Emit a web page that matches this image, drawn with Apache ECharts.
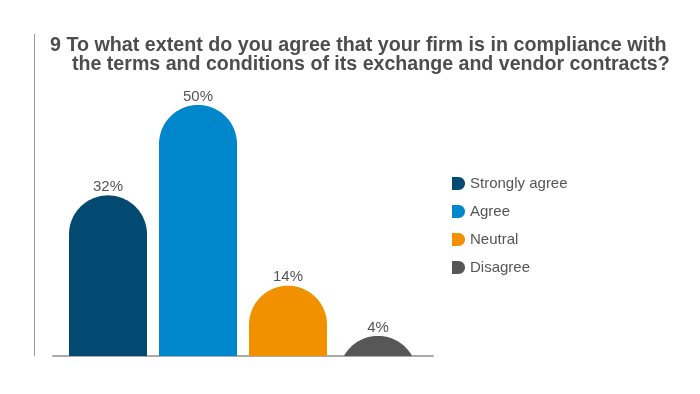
<!DOCTYPE html>
<html>
<head>
<meta charset="utf-8">
<script src="https://cdn.jsdelivr.net/npm/echarts@6/dist/echarts.min.js"></script>
<style>html,body{margin:0;padding:0;background:#fff}#c{width:700px;height:394px}</style>
</head>
<body>
<div id="c"></div>
<script>
const categories = ['Strongly agree', 'Agree', 'Neutral', 'Disagree'];
const values = [32, 50, 14, 4];
const colors = ['#034a73', '#0087cb', '#f29100', '#575757'];
const titleLine1 = '9 To what extent do you agree that your firm is in compliance with';
const titleLine2 = 'the terms and conditions of its exchange and vendor contracts?';

const FONT = '"Liberation Sans", Arial, Helvetica, sans-serif';
const BAR_FRAC = 78 / 90;
const DICON = 'path://M0,0 L6,0 C9.3,0 12,2.7 12,6 C12,9.3 9.3,12 6,12 L0,12 Z';

function renderItem(params, api) {
  const xi = api.value(0), v = api.value(1);
  const top = api.coord([xi, v]);
  const base = api.coord([xi, 0]);
  const bw = api.size([1, 0])[0] * BAR_FRAC;
  const r = bw / 2;
  const cx = top[0];
  const h = base[1] - top[1];
  const cy = top[1] + r;
  const pts = [];
  const N = 48;
  if (h >= r) {
    pts.push([cx - r, base[1]]);
    for (let i = 0; i <= N; i++) {
      const a = Math.PI + Math.PI * i / N;
      pts.push([cx + r * Math.cos(a), cy + r * Math.sin(a)]);
    }
    pts.push([cx + r, base[1]]);
  } else {
    const w = Math.sqrt(r * r - (r - h) * (r - h));
    let sA = Math.atan2(base[1] - cy, -w);
    let eA = Math.atan2(base[1] - cy, w);
    if (sA < 0) sA += 2 * Math.PI;
    if (eA < 0) eA += 2 * Math.PI;
    for (let i = 0; i <= N; i++) {
      const a = sA + (eA - sA) * i / N;
      pts.push([cx + r * Math.cos(a), cy + r * Math.sin(a)]);
    }
  }
  return {
    type: 'group',
    children: [
      { type: 'polygon', shape: { points: pts }, style: { fill: colors[params.seriesIndex] } },
      { type: 'text', style: { text: v + '%', x: cx, y: top[1] - 1, align: 'center', verticalAlign: 'bottom',
        fill: '#555', font: '15px ' + FONT } }
    ]
  };
}

const chart = echarts.init(document.getElementById('c'));
chart.setOption({
  animation: false,
  graphic: [
    { type: 'line', shape: { x1: 34.5, y1: 34, x2: 34.5, y2: 356 }, style: { stroke: '#999', lineWidth: 1 } },
    { type: 'text', left: 50, top: 36, style: { text: titleLine1, fill: '#4d4d4d', font: 'bold 19.7px ' + FONT } },
    { type: 'text', left: 72, top: 55, style: { text: titleLine2, fill: '#4d4d4d', font: 'bold 19.6px ' + FONT } }
  ],
  legend: {
    orient: 'vertical', left: 452, top: 176, padding: 0,
    itemWidth: 13, itemHeight: 14, itemGap: 13,
    textStyle: { color: '#555', fontSize: 15, fontFamily: FONT },
    data: categories.map((c, i) => ({ name: c, icon: DICON, itemStyle: { color: colors[i] } }))
  },
  grid: { left: 53, top: 54.8, width: 380, bottom: 38 },
  xAxis: {
    type: 'value', min: -0.61111, max: 3.61111,
    axisLine: { show: true, lineStyle: { color: '#aaa', width: 2 } },
    axisTick: { show: false }, axisLabel: { show: false }, splitLine: { show: false }
  },
  yAxis: { type: 'value', min: 0, max: 60, show: false, splitLine: { show: false } },
  series: categories.map((c, i) => ({
    name: c, type: 'custom', renderItem: renderItem,
    itemStyle: { color: colors[i] },
    data: [[i, values[i]]]
  }))
});
</script>
</body>
</html>
